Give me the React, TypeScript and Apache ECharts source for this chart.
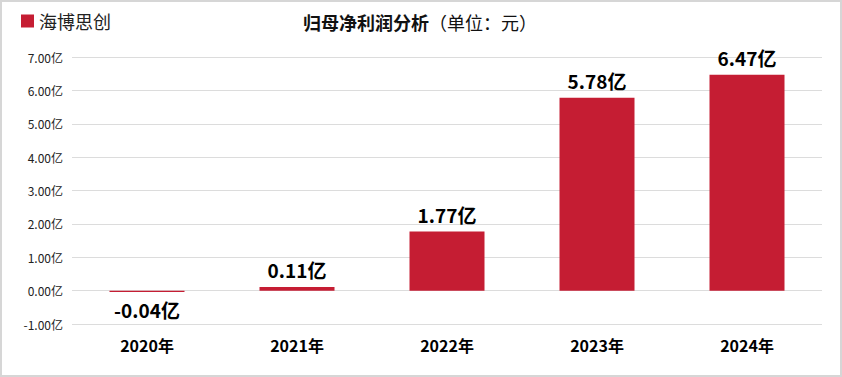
import React, { useEffect, useRef } from "react";
import * as echarts from "echarts";

const categories = ["2020年", "2021年", "2022年", "2023年", "2024年"];
const values = [-0.04, 0.11, 1.77, 5.78, 6.47];
const seriesName = "海博思创";
const yMin = -1;
const yMax = 7;
const yInterval = 1;

const FONT = "'Noto Sans CJK SC', 'Microsoft YaHei', sans-serif";

export default function App() {
  const ref = useRef<HTMLDivElement>(null);
  useEffect(() => {
    document.body.style.margin = "0";
    const chart = echarts.init(ref.current!, null, { renderer: "svg" });
    chart.setOption({
      animation: false,
      backgroundColor: "#ffffff",
      textStyle: { fontFamily: FONT },
      graphic: [
        {
          type: "rect",
          shape: { x: 1, y: 1, width: 840, height: 375 },
          style: { fill: "none", stroke: "#d6d6d6", lineWidth: 2 },
          silent: true,
        },
      ],
      title: {
        text: "{b|归母净利润分析}{n|（单位：元）}",
        left: 298,
        top: 8,
        textStyle: {
          rich: {
            b: { fontSize: 18, fontWeight: "bold", color: "#111", fontFamily: FONT },
            n: { fontSize: 18, fontWeight: "normal", color: "#111", fontFamily: FONT },
          },
        },
      },
      legend: {
        left: 16,
        top: 7,
        itemWidth: 13,
        itemHeight: 13,
        itemGap: 6,
        icon: "rect",
        textStyle: { fontSize: 18, color: "#222", fontFamily: FONT },
        data: [seriesName],
      },
      grid: { left: 72, right: 20, top: 57, bottom: 53, containLabel: false },
      xAxis: {
        type: "category",
        data: categories,
        axisLine: { show: false, onZero: false },
        axisTick: { show: false },
        axisLabel: {
          fontSize: 16,
          fontWeight: "bold",
          color: "#000",
          margin: 13,
          fontFamily: FONT,
        },
      },
      yAxis: {
        type: "value",
        min: yMin,
        max: yMax,
        interval: yInterval,
        axisLine: { show: false },
        axisTick: { show: false },
        splitLine: { lineStyle: { color: "#dcdcdc", width: 1 } },
        axisLabel: {
          fontSize: 12,
          color: "#222",
          margin: 9,
          fontFamily: FONT,
          formatter: (v: number) => v.toFixed(2) + "亿",
        },
      },
      series: [
        {
          name: seriesName,
          type: "bar",
          barWidth: "50%",
          itemStyle: { color: "#C51D33" },
          data: values.map((v) => ({
            value: v,
            label: { position: v < 0 ? "bottom" : "top" },
          })),
          label: {
            show: true,
            fontSize: 19,
            fontWeight: "bold",
            color: "#000",
            distance: 8,
            fontFamily: FONT,
            formatter: (p: any) => Number(p.value).toFixed(2) + "亿",
          },
        },
      ],
    });
    return () => chart.dispose();
  }, []);
  return <div ref={ref} style={{ width: 842, height: 377 }} />;
}
